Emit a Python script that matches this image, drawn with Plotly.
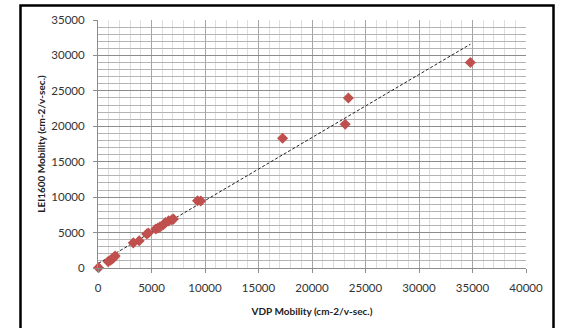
import numpy as np
import plotly.graph_objects as go

# VDP mobility (x) vs LEI1600 mobility (y), cm-2/v-sec.
vdp_mobility = [50, 950, 1150, 1300, 1450, 1600, 3300, 3850, 4550, 4700,
                5400, 5600, 5800, 6100, 6300, 6600, 6900, 7050, 9300, 9600,
                17250, 23100, 23400, 34800]
lei_mobility = [50, 900, 1100, 1250, 1450, 1700, 3550, 3850, 4800, 4950,
                5500, 5650, 5800, 6100, 6400, 6650, 6800, 6900, 9500, 9450,
                18300, 20300, 24000, 29000]

x_ticks = [0, 5000, 10000, 15000, 20000, 25000, 30000, 35000, 40000]
y_ticks = [0, 5000, 10000, 15000, 20000, 25000, 30000, 35000]

x_title = "VDP Mobility (cm-2/v-sec.)"
y_title = "LEI1600 Mobility (cm-2/v-sec.)"

# linear trendline (least squares) over data range
slope, intercept = np.polyfit(vdp_mobility, lei_mobility, 1)
tx = np.array([min(vdp_mobility), max(vdp_mobility)])
ty = slope * tx + intercept

FONT = "Lato"

fig = go.Figure()
fig.add_trace(go.Scatter(
    x=tx, y=ty, mode="lines",
    line=dict(color="#222222", width=1, dash="3px,2px"),
    hoverinfo="skip", showlegend=False))
fig.add_trace(go.Scatter(
    x=vdp_mobility, y=lei_mobility, mode="markers",
    marker=dict(symbol="diamond", size=8.5, color="#C0504D",
                line=dict(width=0)),
    cliponaxis=False, showlegend=False))

W, H = 561, 328
L, R, T, B = 98, 35, 20, 60
pw, ph = W - L - R, H - T - B

def px(xp):
    return (xp - L) / pw

def py(yp):
    return (H - B - yp) / ph

fig.update_layout(
    width=W, height=H,
    margin=dict(l=L, r=R, t=T, b=B, pad=0),
    paper_bgcolor="white", plot_bgcolor="white",
    font=dict(family=FONT, size=10, color="#333333"),
    shapes=[
        dict(type="line", xref="paper", yref="paper",
             x0=px(1), x1=px(1), y0=py(-10), y1=py(0),
             line=dict(color="black", width=2)),
        dict(type="rect", xref="paper", yref="paper",
             x0=px(20.5), x1=px(553.5), y0=py(345), y1=py(5.5),
             line=dict(color="black", width=2.5)),
    ],
)

fig.update_xaxes(
    range=[0, 40000], tickvals=x_ticks, ticktext=[str(v) for v in x_ticks],
    showgrid=True, gridcolor="#a6a6a6", gridwidth=1,
    minor=dict(dtick=1000, showgrid=True, gridcolor="#dedede", gridwidth=1),
    showline=True, linecolor="#8c8c8c", linewidth=1,
    ticks="outside", ticklen=4, tickcolor="#8c8c8c",
    ticklabelstandoff=5,
    zeroline=False,
    tickfont=dict(family=FONT, size=11.5, color="#333333"),
    title=dict(text="<b>" + x_title + "</b>", standoff=15,
               font=dict(family=FONT, size=10, color="#222222")),
)
fig.update_yaxes(
    range=[0, 35000], tickvals=y_ticks, ticktext=[str(v) for v in y_ticks],
    showgrid=True, gridcolor="#8c8c8c", gridwidth=1,
    minor=dict(dtick=1000, showgrid=True, gridcolor="#b4b4b4", gridwidth=1),
    showline=True, linecolor="#8c8c8c", linewidth=1,
    ticks="outside", ticklen=4, tickcolor="#8c8c8c",
    ticklabelstandoff=6,
    zeroline=False,
    tickfont=dict(family=FONT, size=11.5, color="#333333"),
    title=dict(text="<b>" + y_title + "</b>", standoff=3,
               font=dict(family=FONT, size=10, color="#222222")),
)

fig.write_html("out.html")
